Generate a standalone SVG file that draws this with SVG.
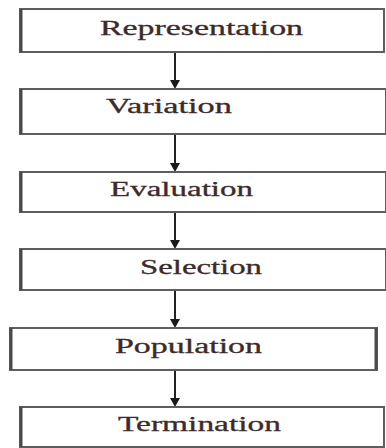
<svg xmlns="http://www.w3.org/2000/svg" width="386" height="448" viewBox="0 0 386 448">
  <style>
    .box { fill: #ffffff; stroke: #5e5e5e; stroke-width: 2; }
    .edge { stroke: #4a4a4a; stroke-width: 3; }
    .lbl { font-family: "Liberation Serif", "Times New Roman", serif; font-size: 20px; fill: #3e2a2a; stroke: #3e2a2a; stroke-width: 0.3; }
    .wire { stroke: #222222; stroke-width: 2; fill: none; }
    .tip { fill: #1a1a1a; }
  </style>
  <rect width="386" height="448" fill="#ffffff"/>

  <!-- vertical flow connectors with downward heads -->
  <g id="connectors">
    <line class="wire" x1="175" y1="52" x2="175" y2="81"/>
    <line class="wire" x1="175" y1="134" x2="175" y2="164"/>
    <line class="wire" x1="175" y1="212" x2="175" y2="241"/>
    <line class="wire" x1="175" y1="290" x2="175" y2="320"/>
    <line class="wire" x1="175" y1="370" x2="175" y2="399"/>
    <path class="tip" d="M170,80 L180,80 L175,89 Z"/>
    <path class="tip" d="M170,163 L180,163 L175,172 Z"/>
    <path class="tip" d="M170,240 L180,240 L175,249 Z"/>
    <path class="tip" d="M170,319 L180,319 L175,328 Z"/>
    <path class="tip" d="M170,398 L180,398 L175,407 Z"/>
  </g>

  <g id="representation">
    <rect class="box" x="20" y="9" width="364" height="43"/>
    <line class="edge" x1="21" y1="9" x2="21" y2="52"/>
    <text class="lbl" x="100" y="35" textLength="203" lengthAdjust="spacingAndGlyphs">Representation</text>
  </g>
  <g id="variation">
    <rect class="box" x="20" y="89" width="366" height="45"/>
    <line class="edge" x1="21" y1="89" x2="21" y2="134"/>
    <text class="lbl" x="106" y="113" textLength="126" lengthAdjust="spacingAndGlyphs">Variation</text>
  </g>
  <g id="evaluation">
    <rect class="box" x="20" y="172" width="366" height="40"/>
    <line class="edge" x1="21" y1="172" x2="21" y2="212"/>
    <text class="lbl" x="110" y="196" textLength="143" lengthAdjust="spacingAndGlyphs">Evaluation</text>
  </g>
  <g id="selection">
    <rect class="box" x="20" y="249" width="366" height="41"/>
    <line class="edge" x1="21" y1="249" x2="21" y2="290"/>
    <text class="lbl" x="140" y="274" textLength="122" lengthAdjust="spacingAndGlyphs">Selection</text>
  </g>
  <g id="population">
    <rect class="box" x="10" y="328" width="367" height="42"/>
    <line class="edge" x1="11" y1="328" x2="11" y2="370"/>
    <line class="edge" x1="376" y1="328" x2="376" y2="370"/>
    <text class="lbl" x="115" y="353" textLength="147" lengthAdjust="spacingAndGlyphs">Population</text>
  </g>
  <g id="termination">
    <rect class="box" x="20" y="407" width="364" height="40"/>
    <line class="edge" x1="21" y1="407" x2="21" y2="447"/>
    <text class="lbl" x="118" y="431" textLength="163" lengthAdjust="spacingAndGlyphs">Termination</text>
  </g>
</svg>
